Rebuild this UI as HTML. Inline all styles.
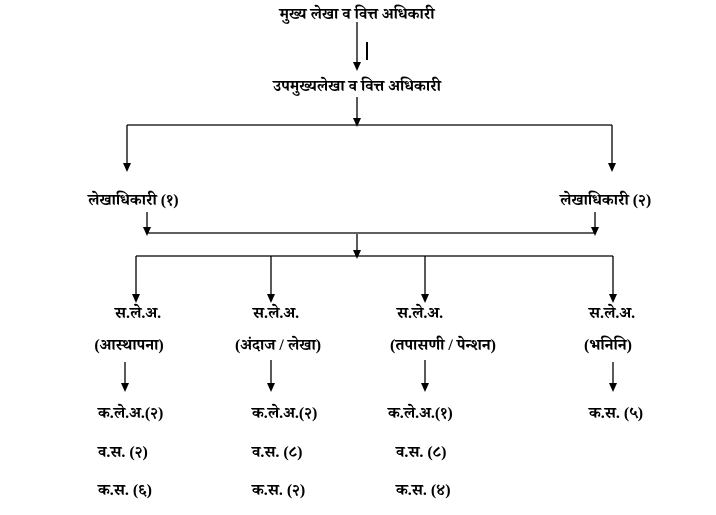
<!DOCTYPE html>
<html><head><meta charset="utf-8"><style>
html,body{margin:0;padding:0;background:#fff;width:716px;height:515px;overflow:hidden}
svg text{font-family:"Liberation Serif","Noto Serif Devanagari","Lohit Devanagari",serif;font-size:16px;font-weight:bold;fill:#000}
</style></head><body>
<svg width="716" height="515" viewBox="0 0 716 515" xmlns="http://www.w3.org/2000/svg">
<g stroke="#000" stroke-width="1.3" fill="none">
<line x1="357" y1="22" x2="357" y2="62"/>
<line x1="367" y1="42" x2="367" y2="60" stroke-width="2"/>
<line x1="357" y1="97" x2="357" y2="118"/>
<line x1="127" y1="125" x2="612" y2="125"/>
<line x1="127" y1="125" x2="127" y2="163"/>
<line x1="612" y1="125" x2="612" y2="163"/>
<line x1="147" y1="212" x2="147" y2="227"/>
<line x1="595" y1="212" x2="595" y2="227"/>
<line x1="147" y1="233" x2="595" y2="233"/>
<line x1="357" y1="234" x2="357" y2="250"/>
<line x1="136" y1="256" x2="613" y2="256"/>
<line x1="136" y1="256" x2="136" y2="294"/>
<line x1="271" y1="256" x2="271" y2="294"/>
<line x1="425" y1="256" x2="425" y2="294"/>
<line x1="613" y1="256" x2="613" y2="294"/>
<line x1="125" y1="362" x2="125" y2="383"/>
<line x1="271" y1="360" x2="271" y2="383"/>
<line x1="425" y1="360" x2="425" y2="383"/>
<line x1="613" y1="362" x2="613" y2="383"/>
</g>
<g fill="#000">
<path d="M353,62 L361,62 L357,71 z"/>
<path d="M353,118 L361,118 L357,127 z"/>
<path d="M123,163 L131,163 L127,172 z"/>
<path d="M608,163 L616,163 L612,172 z"/>
<path d="M143,227 L151,227 L147,236 z"/>
<path d="M591,227 L599,227 L595,236 z"/>
<path d="M353,250 L361,250 L357,259 z"/>
<path d="M132,294 L140,294 L136,303 z"/>
<path d="M267,294 L275,294 L271,303 z"/>
<path d="M421,294 L429,294 L425,303 z"/>
<path d="M609,294 L617,294 L613,303 z"/>
<path d="M121,383 L129,383 L125,392 z"/>
<path d="M267,383 L275,383 L271,392 z"/>
<path d="M421,383 L429,383 L425,392 z"/>
<path d="M609,383 L617,383 L613,392 z"/>
</g>
<text x="357" y="19" text-anchor="middle">मुख्य लेखा व वित्त अधिकारी</text>
<text x="357" y="91" text-anchor="middle">उपमुख्यलेखा व वित्त अधिकारी</text>
<text x="88" y="205">लेखाधिकारी (१)</text>
<text x="560" y="205">लेखाधिकारी (२)</text>
<text x="138" y="318" text-anchor="middle">स.ले.अ.</text>
<text x="276" y="318" text-anchor="middle">स.ले.अ.</text>
<text x="420" y="318" text-anchor="middle">स.ले.अ.</text>
<text x="612" y="318" text-anchor="middle">स.ले.अ.</text>
<text x="129" y="350" text-anchor="middle">(आस्थापना)</text>
<text x="278" y="350" text-anchor="middle">(अंदाज / लेखा)</text>
<text x="443" y="350" text-anchor="middle">(तपासणी / पेन्शन)</text>
<text x="608" y="350" text-anchor="middle">(भनिनि)</text>
<text x="98" y="418">क.ले.अ.(२)</text>
<text x="252" y="418">क.ले.अ.(२)</text>
<text x="388" y="418">क.ले.अ.(१)</text>
<text x="589" y="418">क.स. (५)</text>
<text x="98" y="457">व.स. (२)</text>
<text x="252" y="457">व.स. (८)</text>
<text x="396" y="457">व.स. (८)</text>
<text x="98" y="495">क.स. (६)</text>
<text x="252" y="495">क.स. (२)</text>
<text x="396" y="495">क.स. (४)</text>
</svg>
</body></html>
